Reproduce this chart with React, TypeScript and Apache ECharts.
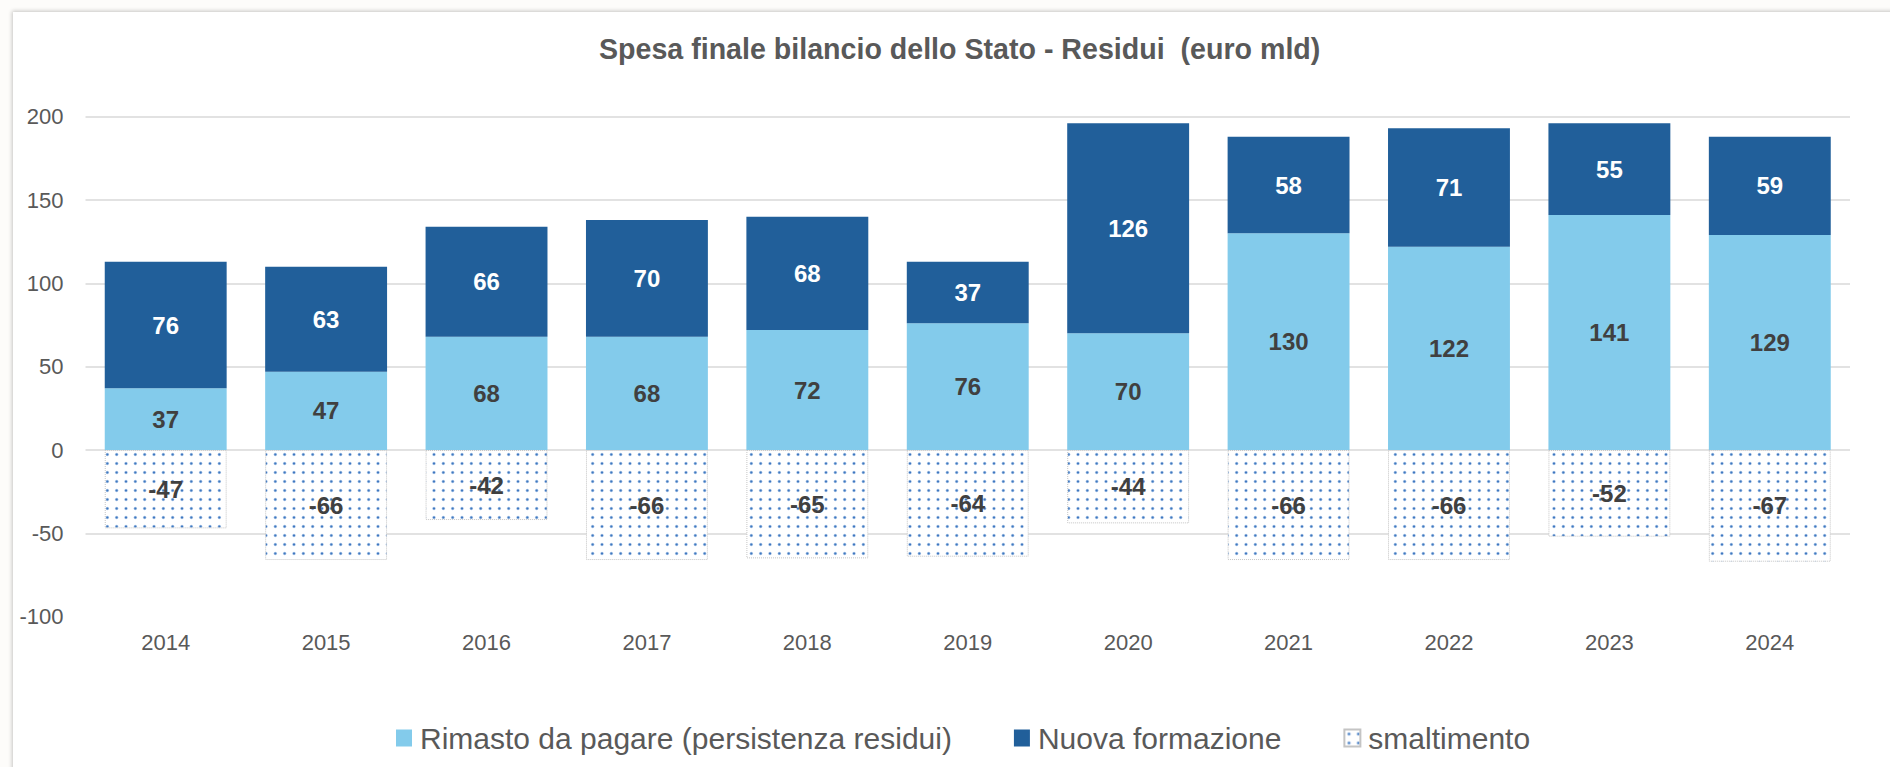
import React, { useEffect, useRef } from 'react';
import * as echarts from 'echarts';

const years = ['2014', '2015', '2016', '2017', '2018', '2019', '2020', '2021', '2022', '2023', '2024'];
const rimasto = [37, 47, 68, 68, 72, 76, 70, 130, 122, 141, 129];
const nuova = [76, 63, 66, 70, 68, 37, 126, 58, 71, 55, 59];
const smaltimento = [-47, -66, -42, -66, -65, -64, -44, -66, -66, -52, -67];
const yMin = -100;
const yMax = 200;
const yStep = 50;

const seriesNames = ['Rimasto da pagare (persistenza residui)', 'Nuova formazione', 'smaltimento'];
const titleText = 'Spesa finale bilancio dello Stato - Residui  (euro mld)';

const FONT = "'Liberation Sans', Arial, sans-serif";

export default function App() {
  const ref = useRef<HTMLDivElement>(null);

  useEffect(() => {
    const el = ref.current;
    if (!el) return;
    const chart = echarts.init(el, null, { renderer: 'svg' });

    const cv = document.createElement('canvas');
    cv.width = 28;
    cv.height = 27;
    const ctx = cv.getContext('2d');
    if (ctx) {
      ctx.fillStyle = '#ffffff';
      ctx.fillRect(0, 0, 28, 27);
      for (let i = 0; i < 3; i++) {
        for (let j = 0; j < 3; j++) {
          const cx = 4.67 + i * 9.33;
          const cy = 4.5 + j * 9;
          ctx.fillStyle = '#a9c4e6';
          ctx.beginPath();
          ctx.arc(cx, cy, 1.7, 0, Math.PI * 2);
          ctx.fill();
          ctx.fillStyle = '#3f78c0';
          ctx.beginPath();
          ctx.arc(cx, cy, 1.1, 0, Math.PI * 2);
          ctx.fill();
        }
      }
    }
    const pattern: any = { image: cv, repeat: 'repeat', imageWidth: 28, imageHeight: 27 };

    const labelBase = {
      show: true,
      position: 'inside',
      fontFamily: FONT,
      fontWeight: 'bold',
      fontSize: 24,
    };

    chart.setOption({
      animation: false,
      backgroundColor: 'transparent',
      textStyle: { fontFamily: FONT },
      title: {
        text: titleText,
        left: 599,
        top: 34,
        padding: 0,
        textStyle: { fontFamily: FONT, fontSize: 28.6, fontWeight: 'bold', color: '#595959' },
      },
      legend: {
        data: seriesNames,
        left: 391,
        top: 718,
        itemWidth: 16,
        itemHeight: 17,
        itemGap: 62,
        icon: 'rect',
        textStyle: { fontFamily: FONT, fontSize: 30, color: '#595959', padding: [0, 0, 0, 3] },
      },
      grid: { left: 85.5, right: 40, top: 116.7, bottom: 150.3, containLabel: false },
      xAxis: {
        type: 'category',
        data: years,
        axisLine: { show: false, onZero: false },
        axisTick: { show: false },
        axisLabel: { fontFamily: FONT, fontSize: 22, color: '#595959', margin: 15 },
      },
      yAxis: {
        type: 'value',
        min: yMin,
        max: yMax,
        interval: yStep,
        axisLine: { show: false },
        axisTick: { show: false },
        axisLabel: { fontFamily: FONT, fontSize: 22, color: '#595959', margin: 22 },
        splitLine: { show: true, showMinLine: false, lineStyle: { color: '#d9d9d9', width: 1.5 } },
      },
      series: [
        {
          name: seriesNames[0],
          type: 'bar',
          stack: 'tot',
          barWidth: '76%',
          data: rimasto,
          itemStyle: { color: '#83CBEB' },
          label: { ...labelBase, color: '#404040' },
        },
        {
          name: seriesNames[1],
          type: 'bar',
          stack: 'tot',
          barWidth: '76%',
          data: nuova,
          itemStyle: { color: '#215F9A' },
          label: { ...labelBase, color: '#ffffff' },
        },
        {
          name: seriesNames[2],
          type: 'bar',
          stack: 'tot',
          barWidth: '76%',
          data: smaltimento,
          itemStyle: { color: pattern, borderColor: '#c4c4c4', borderWidth: 1, borderType: 'dotted' },
          label: { ...labelBase, color: '#404040' },
        },
      ],
    });

    return () => {
      chart.dispose();
    };
  }, []);

  return (
    <div
      style={{
        position: 'fixed',
        left: 0,
        top: 0,
        width: 1890,
        height: 767,
        background: '#fdfcfa',
        overflow: 'hidden',
      }}
    >
      <div
        style={{
          position: 'absolute',
          left: 13,
          top: 12,
          width: 1900,
          height: 780,
          background: '#ffffff',
          boxShadow: '-1px -1px 4px rgba(0,0,0,0.22)',
        }}
      />
      <div ref={ref} style={{ position: 'absolute', left: 0, top: 0, width: 1890, height: 767 }} />
    </div>
  );
}
